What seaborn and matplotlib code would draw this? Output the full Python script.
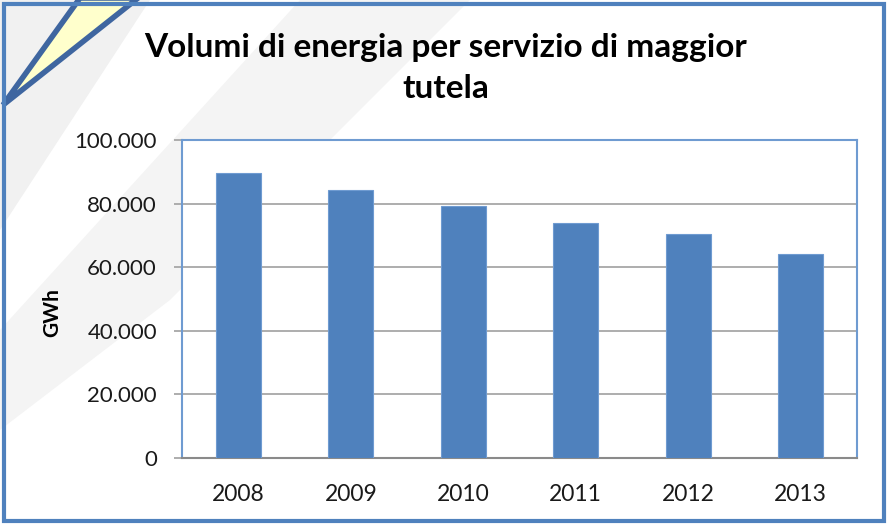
import matplotlib
matplotlib.use("Agg")
import matplotlib.pyplot as plt
import seaborn as sns
import pandas as pd
from matplotlib.patches import Polygon, Rectangle
from matplotlib.ticker import FuncFormatter

years = ["2008", "2009", "2010", "2011", "2012", "2013"]
volumes = [89500, 84200, 79400, 73800, 70300, 64000]
y_ticks = [0, 20000, 40000, 60000, 80000, 100000]

title_line1 = "Volumi di energia per servizio di maggior"
title_line2 = "tutela"
y_label = "GWh"

df = pd.DataFrame({"anno": years, "GWh": volumes})

sns.set_theme(style="white")
plt.rcParams["font.family"] = ["Lato", "DejaVu Sans"]

W, H = 889, 527
fig = plt.figure(figsize=(W / 100, H / 100), dpi=100)
fig.patch.set_facecolor("white")

def fx(x):
    return x / W

def fy(y):
    return 1 - y / H

# faint background swooshes
sw1 = Polygon([(fx(0), fy(330)), (fx(300), fy(0)), (fx(470), fy(0)), (fx(170), fy(300)), (fx(0), fy(430))],
              closed=True, transform=fig.transFigure, facecolor="#f4f4f4", edgecolor="none", zorder=0)
fig.patches.append(sw1)
sw2 = Polygon([(fx(0), fy(0)), (fx(150), fy(0)), (fx(0), fy(230))],
              closed=True, transform=fig.transFigure, facecolor="#f1f1f1", edgecolor="none", zorder=0)
fig.patches.append(sw2)

ax = fig.add_axes([182 / W, (H - 458) / H, (857 - 182) / W, (458 - 140) / H])
ax.set_facecolor("white")
ax.set_zorder(2)

sns.barplot(data=df, x="anno", y="GWh", color="#4F81BD", width=0.4, saturation=1,
            edgecolor="#6f9bd1", linewidth=0.8, ax=ax, zorder=3)

ax.set_ylim(0, 100000)
ax.set_xlim(-0.5, len(years) - 0.5)
ax.set_yticks(y_ticks)
ax.yaxis.set_major_formatter(FuncFormatter(lambda v, p: "0" if v == 0 else f"{int(v):,}".replace(",", ".")))
ax.grid(axis="y", color="#a0a0a0", linewidth=1.2, zorder=0)
ax.set_axisbelow(True)
ax.tick_params(axis="y", which="both", left=True, length=6, width=1.2, color="#a0a0a0",
               labelsize=16, pad=12, labelcolor="#1a1a1a")
ax.tick_params(axis="x", bottom=False, labelsize=16.5, pad=13, labelcolor="#1a1a1a")
ax.set_xlabel("")
ax.set_ylabel("")
fig.text(fx(52), fy(313), y_label, rotation=90, ha="center", va="center",
         fontsize=15, fontweight="bold", color="black")

for s in ["top", "right", "left"]:
    ax.spines[s].set_visible(True)
    ax.spines[s].set_color("#6f9bd1")
    ax.spines[s].set_linewidth(1.5)
ax.spines["bottom"].set_color("#8a8a8a")
ax.spines["bottom"].set_linewidth(1.5)

fig.text(fx(446), fy(47), title_line1, ha="center", va="center",
         fontsize=24, fontweight="bold", color="black")
fig.text(fx(446), fy(88), title_line2, ha="center", va="center",
         fontsize=24, fontweight="bold", color="black")

# decorative triangle top-left
tri = Polygon([(fx(80), fy(-2)), (fx(138), fy(-2)), (fx(3), fy(105))], closed=True,
              transform=fig.transFigure, facecolor="#FFFFCC", edgecolor="#3F66A0",
              linewidth=4, joinstyle="miter", zorder=5)
fig.patches.append(tri)

# outer frame
frame = Rectangle((fx(4), fy(521)), fx(880), 517 / H, transform=fig.transFigure,
                  facecolor="none", edgecolor="#4F81BD", linewidth=3, zorder=6)
fig.patches.append(frame)

fig.savefig("out.png", dpi=100)
